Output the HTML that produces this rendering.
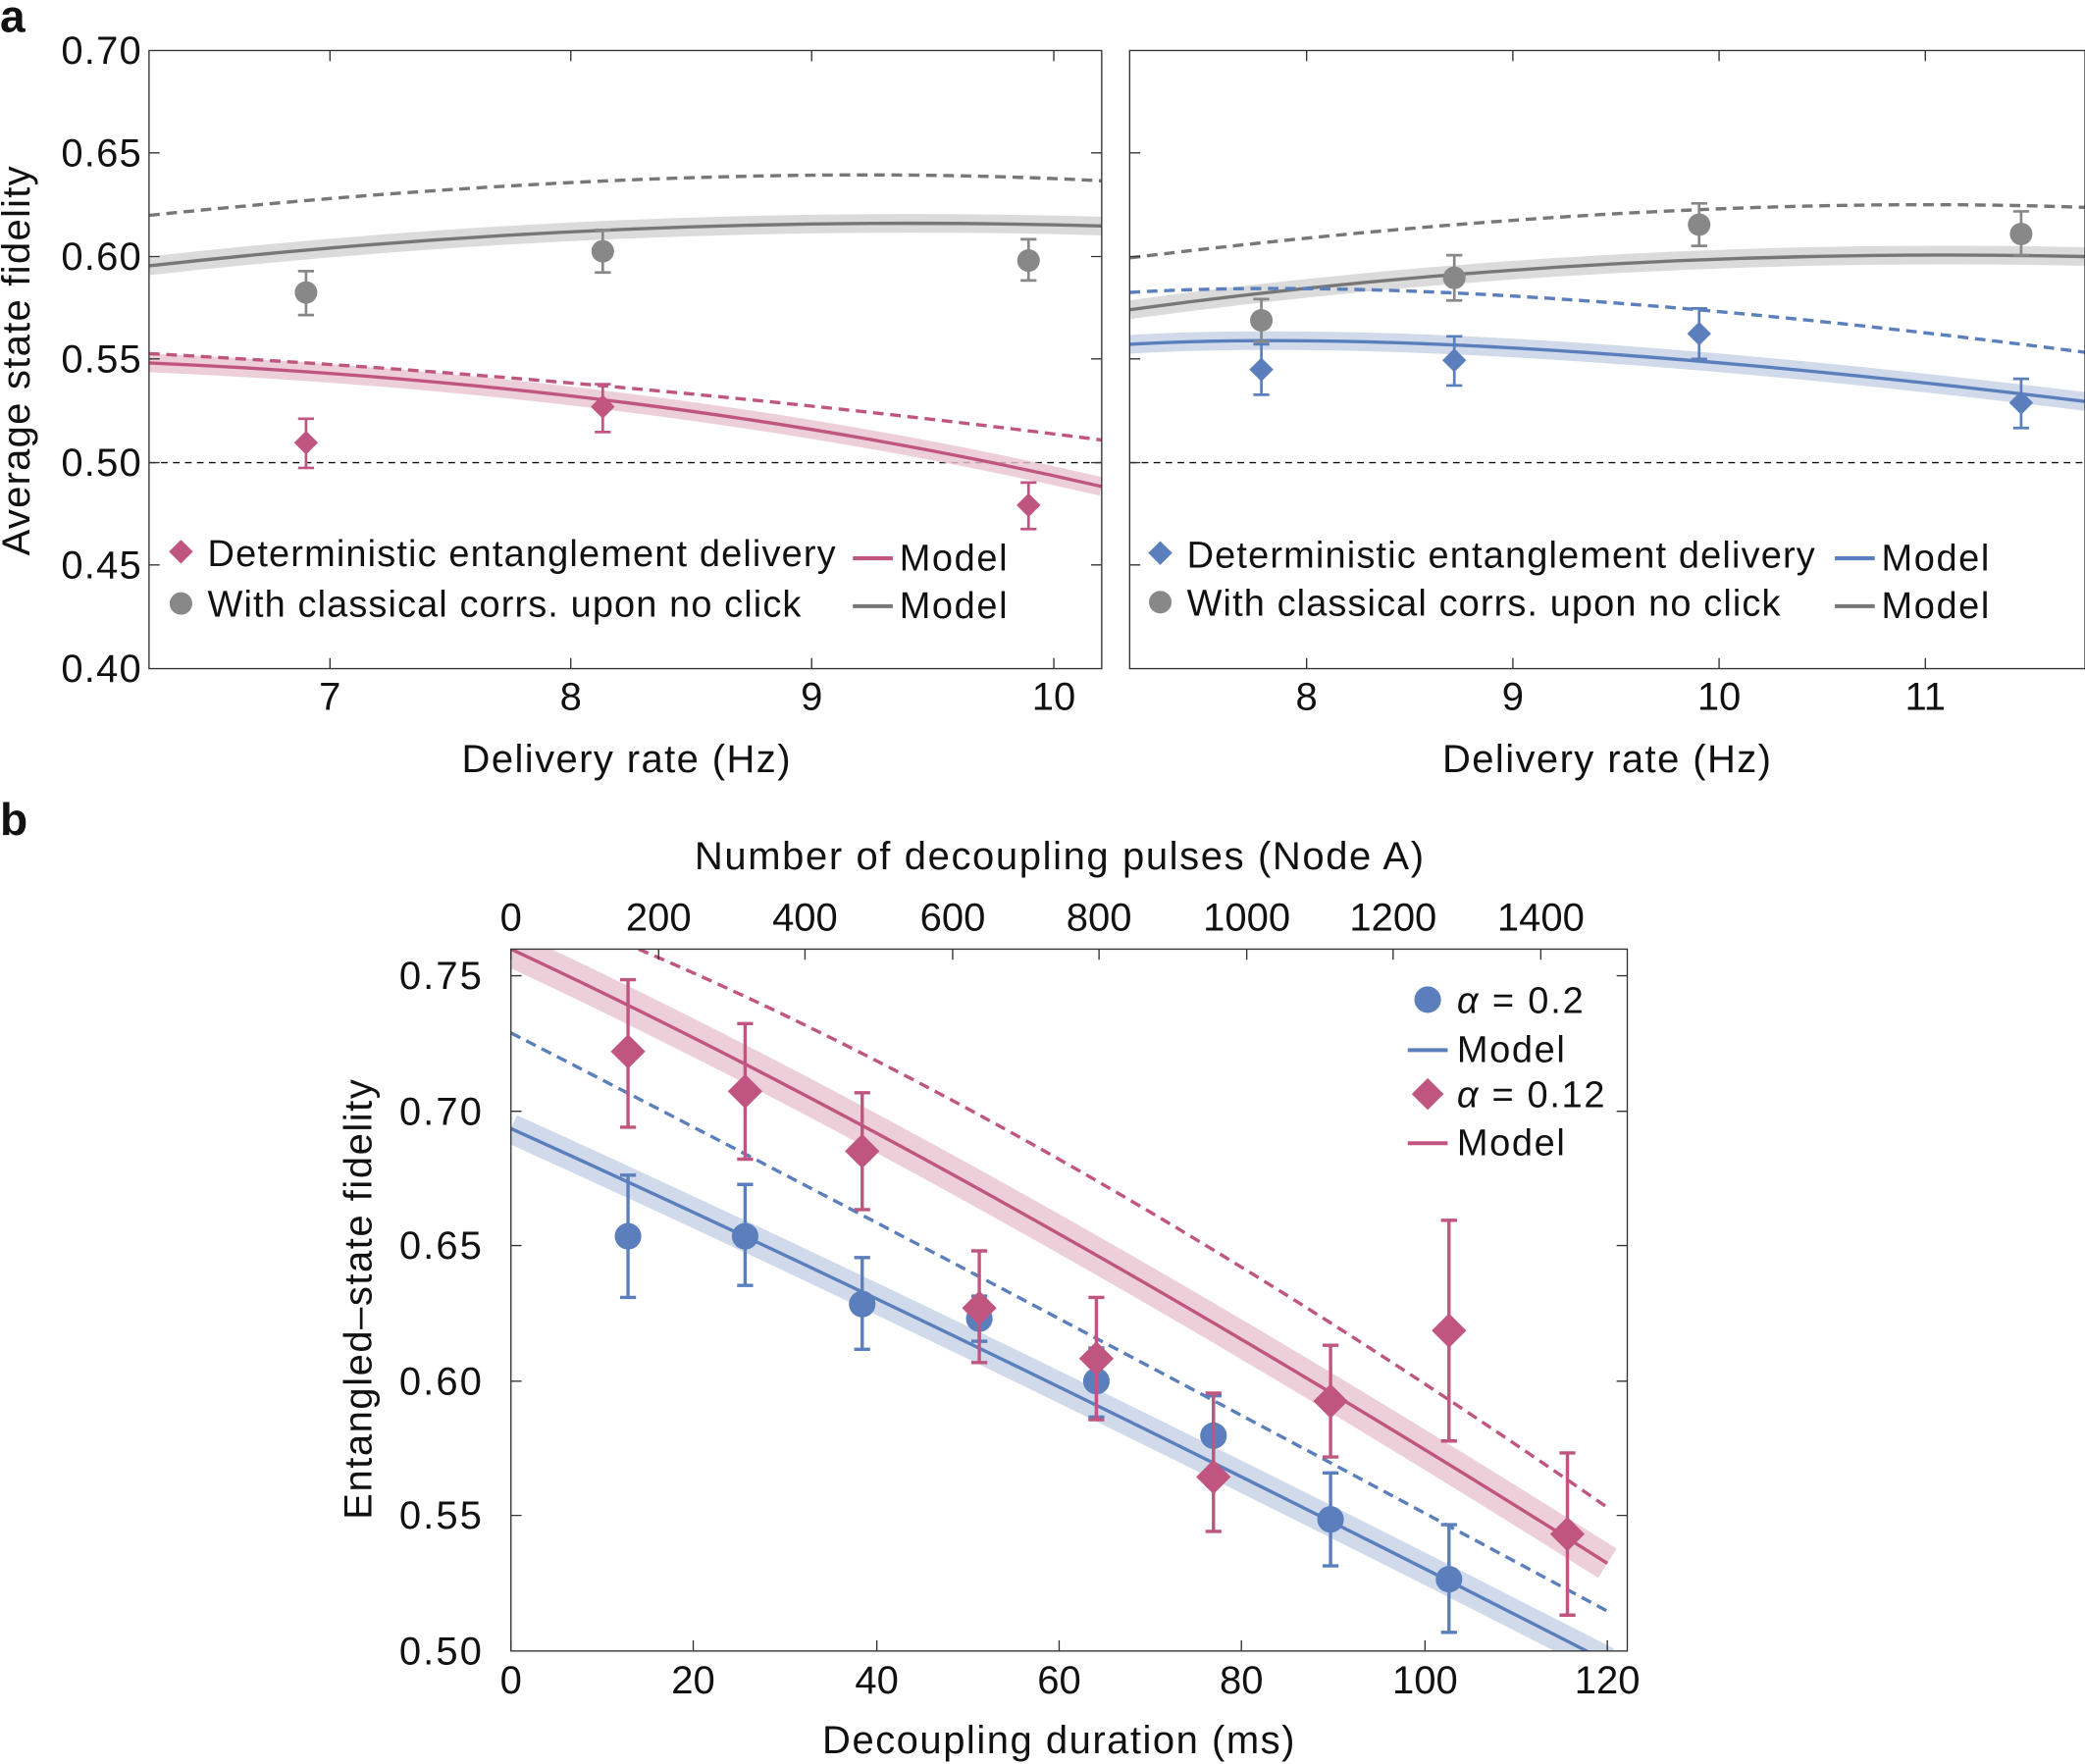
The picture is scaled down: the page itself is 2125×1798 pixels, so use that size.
<!DOCTYPE html>
<html><head><meta charset="utf-8"><style>
html,body{margin:0;padding:0;background:#fff;}
svg{display:block;}
text{font-family:"Liberation Sans",sans-serif;fill:#111;}
</style></head><body>
<svg width="2125" height="1798" viewBox="0 0 1567 1327" preserveAspectRatio="none" xmlns="http://www.w3.org/2000/svg">
<defs>
<clipPath id="cl"><rect x="112" y="38" width="716" height="465"/></clipPath>
<clipPath id="cr"><rect x="849" y="38" width="718" height="465"/></clipPath>
<clipPath id="cb"><rect x="384" y="714" width="839" height="528"/></clipPath>
<g id="dia"><path d="M0,-9 L9,0 L0,9 L-9,0Z"/></g>
</defs>
<text x="0" y="24" font-size="34" font-weight="bold">a</text>
<text x="0" y="628" font-size="34" font-weight="bold">b</text>

<!-- LEFT PANEL -->
<g clip-path="url(#cl)">
<line x1="112" y1="348" x2="828" y2="348" stroke="#111" stroke-width="1" stroke-dasharray="5,4"/>
<path d="M112,200 Q470,160 828,170" fill="none" stroke="#ccc" stroke-width="14" opacity="0.7"/>
<path d="M112,200 Q470,160 828,170" fill="none" stroke="#777" stroke-width="2.5"/>
<path d="M112,162 Q520,120 828,136" fill="none" stroke="#777" stroke-width="2.5" stroke-dasharray="8,5"/>
<path d="M112,273 Q500,290 828,366" fill="none" stroke="#e8c3cf" stroke-width="14" opacity="0.8"/>
<path d="M112,273 Q500,290 828,366" fill="none" stroke="#c05680" stroke-width="2.5"/>
<path d="M112,266 Q470,285 828,331" fill="none" stroke="#c05680" stroke-width="2.5" stroke-dasharray="8,5"/>
</g>
<g stroke="#888" stroke-width="2" fill="#888">
<path d="M230,204V237M224,204H236M224,237H236 M453,173V205M447,173H459M447,205H459 M773,180V211M767,180H779M767,211H779"/>
<circle cx="230" cy="220" r="8.5" stroke="none"/><circle cx="453" cy="189" r="8.5" stroke="none"/><circle cx="773" cy="196" r="8.5" stroke="none"/>
</g>
<g stroke="#c05680" stroke-width="2" fill="#c05680">
<path d="M230,315V352M224,315H236M224,352H236 M453,289V325M447,289H459M447,325H459 M773,363V398M767,363H779M767,398H779"/>
<use href="#dia" x="230" y="333" stroke="none"/><use href="#dia" x="453" y="306" stroke="none"/><use href="#dia" x="773" y="380" stroke="none"/>
</g>
<rect x="112" y="38" width="716" height="465" fill="none" stroke="#333" stroke-width="1"/>
<g font-size="29.5" text-anchor="end">
<text x="106" y="48" textLength="60">0.70</text><text x="106" y="125" textLength="60">0.65</text><text x="106" y="203" textLength="60">0.60</text><text x="106" y="280" textLength="60">0.55</text><text x="106" y="358" textLength="60">0.50</text><text x="106" y="435" textLength="60">0.45</text><text x="106" y="513" textLength="60">0.40</text>
</g>
<g font-size="29.5" text-anchor="middle">
<text x="248" y="534">7</text><text x="429" y="534">8</text><text x="610" y="534">9</text><text x="792" y="534">10</text>
</g>
<text x="347" y="581" font-size="29.5" textLength="247">Delivery rate (Hz)</text>
<text transform="translate(22,418) rotate(-90)" font-size="29.5" textLength="293">Average state fidelity</text>
<g stroke="#333" stroke-width="1">
<path d="M248,503v-8M429,503v-8M610,503v-8M792,503v-8M248,38v8M429,38v8M610,38v8M792,38v8 M112,115h8M112,193h8M112,270h8M112,348h8M112,425h8M828,115h-8M828,193h-8M828,270h-8M828,348h-8M828,425h-8"/>
</g>
<use href="#dia" x="136" y="415" fill="#c05680"/>
<circle cx="136" cy="454" r="8.5" fill="#888"/>
<text x="156" y="426" font-size="28" textLength="472">Deterministic entanglement delivery</text>
<text x="156" y="464" font-size="28" textLength="446">With classical corrs. upon no click</text>
<line x1="641" y1="420" x2="671" y2="420" stroke="#c05680" stroke-width="3"/>
<line x1="641" y1="456" x2="671" y2="456" stroke="#777" stroke-width="3"/>
<text x="676" y="429" font-size="28" textLength="81">Model</text><text x="676" y="465" font-size="28" textLength="81">Model</text>

<!-- RIGHT PANEL -->
<g clip-path="url(#cr)">
<line x1="849" y1="348" x2="1567" y2="348" stroke="#111" stroke-width="1" stroke-dasharray="5,4"/>
<path d="M849,233 Q1200,185 1567,193" fill="none" stroke="#ccc" stroke-width="14" opacity="0.7"/>
<path d="M849,233 Q1200,185 1567,193" fill="none" stroke="#777" stroke-width="2.5"/>
<path d="M849,194 Q1250,145 1567,156" fill="none" stroke="#777" stroke-width="2.5" stroke-dasharray="8,5"/>
<path d="M849,259 Q1100,245 1567,302" fill="none" stroke="#c5d1e6" stroke-width="14" opacity="0.8"/>
<path d="M849,259 Q1100,245 1567,302" fill="none" stroke="#5b7fbd" stroke-width="2.5"/>
<path d="M849,220 Q1100,205 1567,265" fill="none" stroke="#5b7fbd" stroke-width="2.5" stroke-dasharray="8,5"/>
</g>
<g stroke="#888" stroke-width="2" fill="#888">
<path d="M948,225V257M942,225H954M942,257H954 M1093,192V226M1087,192H1099M1087,226H1099 M1277,153V185M1271,153H1283M1271,185H1283 M1519,159V192M1513,159H1525M1513,192H1525"/>
<circle cx="948" cy="241" r="8.5" stroke="none"/><circle cx="1093" cy="209" r="8.5" stroke="none"/><circle cx="1277" cy="169" r="8.5" stroke="none"/><circle cx="1519" cy="176" r="8.5" stroke="none"/>
</g>
<g stroke="#5b7fbd" stroke-width="2" fill="#5b7fbd">
<path d="M948,259V297M942,259H954M942,297H954 M1093,253V290M1087,253H1099M1087,290H1099 M1277,232V270M1271,232H1283M1271,270H1283 M1519,285V322M1513,285H1525M1513,322H1525"/>
<use href="#dia" x="948" y="278" stroke="none"/><use href="#dia" x="1093" y="271" stroke="none"/><use href="#dia" x="1277" y="251" stroke="none"/><use href="#dia" x="1519" y="303" stroke="none"/>
</g>
<rect x="849" y="38" width="718" height="465" fill="none" stroke="#333" stroke-width="1"/>
<g stroke="#333" stroke-width="1">
<path d="M982,503v-8M1137,503v-8M1292,503v-8M1447,503v-8M982,38v8M1137,38v8M1292,38v8M1447,38v8 M849,115h8M849,193h8M849,270h8M849,348h8M849,425h8"/>
</g>
<g font-size="29.5" text-anchor="middle">
<text x="982" y="534">8</text><text x="1137" y="534">9</text><text x="1292" y="534">10</text><text x="1447" y="534">11</text>
</g>
<text x="1084" y="581" font-size="29.5" textLength="247">Delivery rate (Hz)</text>
<use href="#dia" x="872" y="416" fill="#5b7fbd"/>
<circle cx="872" cy="453" r="8.5" fill="#888"/>
<text x="892" y="427" font-size="28" textLength="472">Deterministic entanglement delivery</text>
<text x="892" y="463" font-size="28" textLength="446">With classical corrs. upon no click</text>
<line x1="1379" y1="420" x2="1409" y2="420" stroke="#5b7fbd" stroke-width="3"/>
<line x1="1379" y1="456" x2="1409" y2="456" stroke="#777" stroke-width="3"/>
<text x="1414" y="429" font-size="28" textLength="81">Model</text><text x="1414" y="465" font-size="28" textLength="81">Model</text>

<!-- PANEL B -->
<g clip-path="url(#cb)">
<path d="M384,714 Q740,880 1208,1176" fill="none" stroke="#e8c3cf" stroke-width="26" opacity="0.8"/>
<path d="M384,714 Q740,880 1208,1176" fill="none" stroke="#c05680" stroke-width="2.5"/>
<path d="M480,714 Q800,850 1208,1134" fill="none" stroke="#c05680" stroke-width="2.5" stroke-dasharray="8,5"/>
<path d="M384,849 Q740,1010 1208,1250" fill="none" stroke="#c5d1e6" stroke-width="22" opacity="0.8"/>
<path d="M384,849 Q740,1010 1208,1250" fill="none" stroke="#5b7fbd" stroke-width="2.5"/>
<path d="M384,777 Q740,960 1208,1212" fill="none" stroke="#5b7fbd" stroke-width="2.5" stroke-dasharray="8,5"/>
</g>
<g stroke="#5b7fbd" stroke-width="2.5" fill="#5b7fbd">
<path d="M472,884V976M466,884H478M466,976H478 M560,891V967M554,891H566M554,967H566 M648,946V1015M642,946H654M642,1015H654 M736,975V1009M730,975H742M730,1009H742 M824,1014V1066M818,1014H830M818,1066H830 M912,1050V1110M906,1050H918M906,1110H918 M1000,1108V1178M994,1108H1006M994,1178H1006 M1089,1147V1228M1083,1147H1095M1083,1228H1095"/>
<g stroke="none"><circle cx="472" cy="930" r="10"/><circle cx="560" cy="930" r="10"/><circle cx="648" cy="981" r="10"/><circle cx="736" cy="992" r="10"/><circle cx="824" cy="1039" r="10"/><circle cx="912" cy="1080" r="10"/><circle cx="1000" cy="1143" r="10"/><circle cx="1089" cy="1188" r="10"/></g>
</g>
<g stroke="#c05680" stroke-width="2.5" fill="none">
<path d="M472,737V848M466,737H478M466,848H478 M560,770V872M554,770H566M554,872H566 M648,822V910M642,822H654M642,910H654 M736,941V1025M730,941H742M730,1025H742 M824,976V1068M818,976H830M818,1068H830 M912,1048V1152M906,1048H918M906,1152H918 M1000,1012V1096M994,1012H1006M994,1096H1006 M1089,918V1084M1083,918H1095M1083,1084H1095 M1178,1093V1215M1172,1093H1184M1172,1215H1184"/>
</g>
<g fill="#c05680">
<path d="M472,778l13,13l-13,13l-13,-13z M560,808l13,13l-13,13l-13,-13z M648,853l13,13l-13,13l-13,-13z M736,971l13,13l-13,13l-13,-13z M824,1009l13,13l-13,13l-13,-13z M912,1098l13,13l-13,13l-13,-13z M1000,1041l13,13l-13,13l-13,-13z M1089,988l13,13l-13,13l-13,-13z M1178,1141l13,13l-13,13l-13,-13z"/>
</g>
<rect x="384" y="714" width="839" height="528" fill="none" stroke="#333" stroke-width="1"/>
<g stroke="#333" stroke-width="1">
<path d="M384,734h8M384,836h8M384,937h8M384,1039h8M384,1140h8M1223,734h-8M1223,836h-8M1223,937h-8M1223,1039h-8M1223,1140h-8
M384,1242v-8M521,1242v-8M659,1242v-8M796,1242v-8M933,1242v-8M1071,1242v-8M1208,1242v-8
M384,714v8M495,714v8M605,714v8M716,714v8M826,714v8M937,714v8M1047,714v8M1158,714v8"/>
</g>
<g font-size="29.5" text-anchor="end">
<text x="362" y="744" textLength="62">0.75</text><text x="362" y="846" textLength="62">0.70</text><text x="362" y="947" textLength="62">0.65</text><text x="362" y="1049" textLength="62">0.60</text><text x="362" y="1150" textLength="62">0.55</text><text x="362" y="1252" textLength="62">0.50</text>
</g>
<g font-size="29.5" text-anchor="middle">
<text x="384" y="1274">0</text><text x="521" y="1274">20</text><text x="659" y="1274">40</text><text x="796" y="1274">60</text><text x="933" y="1274">80</text><text x="1071" y="1274">100</text><text x="1208" y="1274">120</text>
<text x="384" y="700">0</text><text x="495" y="700">200</text><text x="605" y="700">400</text><text x="716" y="700">600</text><text x="826" y="700">800</text><text x="937" y="700">1000</text><text x="1047" y="700">1200</text><text x="1158" y="700">1400</text>
</g>
<text x="618" y="1319" font-size="29.5" textLength="355">Decoupling duration (ms)</text>
<text x="522" y="654" font-size="29.5" textLength="548">Number of decoupling pulses (Node A)</text>
<text transform="translate(279,1143) rotate(-90)" font-size="29.5" textLength="331">Entangled–state fidelity</text>
<circle cx="1073" cy="752" r="10" fill="#5b7fbd"/>
<line x1="1058" y1="790" x2="1088" y2="790" stroke="#5b7fbd" stroke-width="3"/>
<path d="M1073,811l12,12l-12,12l-12,-12z" fill="#c05680"/>
<line x1="1058" y1="860" x2="1088" y2="860" stroke="#c05680" stroke-width="3"/>
<g font-size="28">
<text x="1095" y="762" textLength="95"><tspan font-style="italic">α</tspan> = 0.2</text>
<text x="1095" y="799" textLength="81">Model</text>
<text x="1095" y="833" textLength="111"><tspan font-style="italic">α</tspan> = 0.12</text>
<text x="1095" y="869" textLength="81">Model</text>
</g>
</svg>
</body></html>
